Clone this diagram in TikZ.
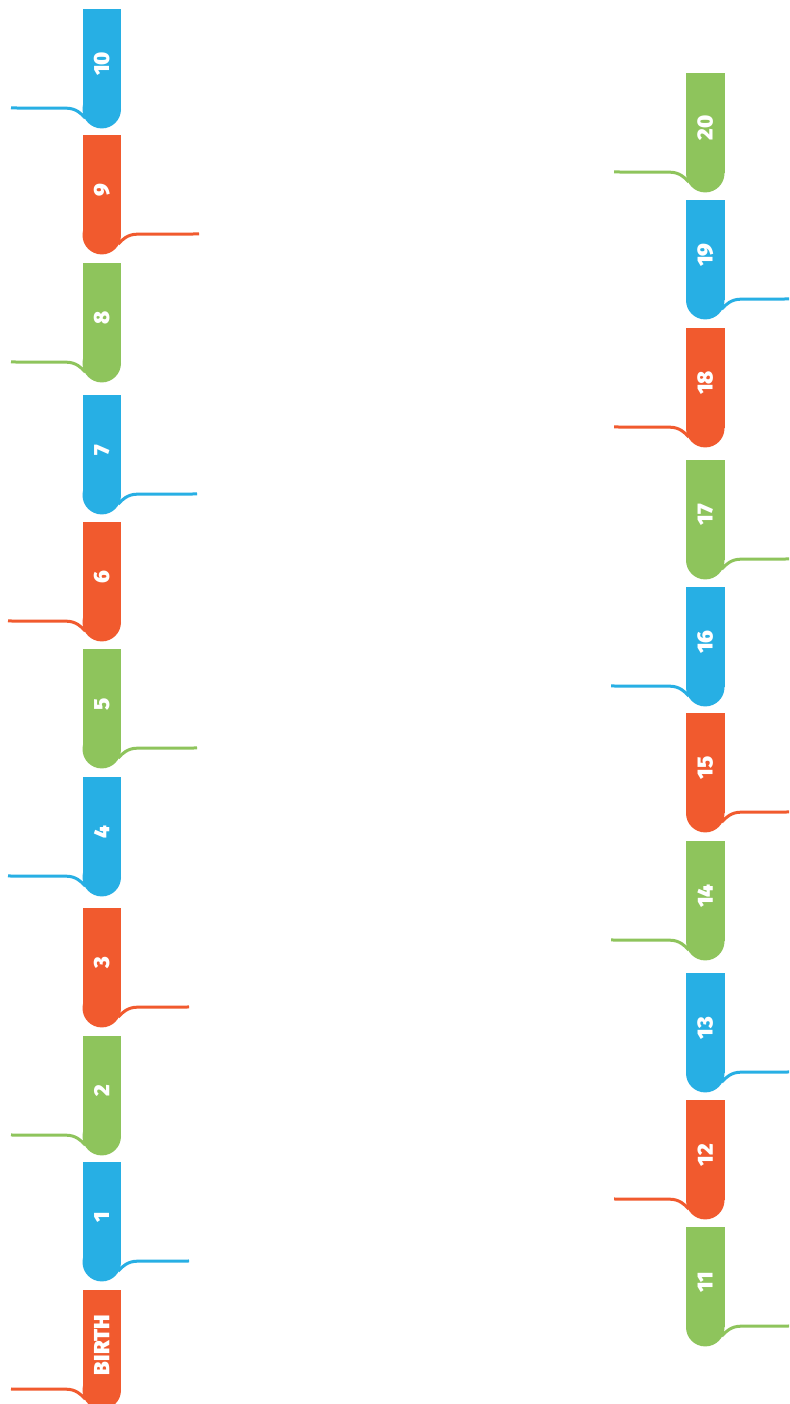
\documentclass[tikz,border=0pt]{standalone}
\usepackage{fontspec}
\newfontfamily\tabfont{Fira Sans Black}
\usetikzlibrary{backgrounds}
\definecolor{tblue}{HTML}{27AFE4}
\definecolor{torange}{HTML}{F15A2E}
\definecolor{tgreen}{HTML}{8EC45C}
\tikzset{
  tabbox/.style={rectangle, inner sep=0pt, minimum width=38.5pt, minimum height=100pt, draw=none},
  tablabel/.style={rotate=90, text=white, font=\tabfont\fontsize{22}{22}\selectfont, inner sep=0pt},
  conn/.style={line width=3pt},
}
% name, x0, top(px from top), colour, label, end x of connector
\newcommand\tabL[6]{%
  \pgfmathsetmacro\cx{#2+19.25}%
  \pgfmathsetmacro\cy{1404-#3-50}%
  \node[tabbox, fill=#4] (t#1) at (\cx,\cy) {};
  \fill[#4] (t#1.south) circle[radius=19.25];
  \node[tablabel] (l#1) at ([yshift=-5pt]t#1.center) {#5};
  \coordinate (e#1) at (#6,\cy-49);
  \begin{scope}[on background layer]
    \draw[conn,#4] (e#1) -- ([xshift=-16pt,yshift=1pt]t#1.south west)
      .. controls +(9,0) and +(-4,5) .. ([xshift=3pt,yshift=-9pt]t#1.south west);
  \end{scope}
}
\newcommand\tabR[6]{%
  \pgfmathsetmacro\cx{#2+19.25}%
  \pgfmathsetmacro\cy{1404-#3-50}%
  \node[tabbox, fill=#4] (t#1) at (\cx,\cy) {};
  \fill[#4] (t#1.south) circle[radius=19.25];
  \node[tablabel] (l#1) at ([yshift=-5pt]t#1.center) {#5};
  \coordinate (e#1) at (#6,\cy-49);
  \begin{scope}[on background layer]
    \draw[conn,#4] (e#1) -- ([xshift=16pt,yshift=1pt]t#1.south east)
      .. controls +(-9,0) and +(4,5) .. ([xshift=-3pt,yshift=-9pt]t#1.south east);
  \end{scope}
}
\begin{document}
\begin{tikzpicture}[x=1pt,y=1pt]
\useasboundingbox (0,0) rectangle (789,1404);
\begin{scope}[on background layer]
  \fill[white] (0,0) rectangle (789,1404);
\end{scope}
% left column
\tabL{10}{82.5}{9}{tblue}{10}{11}
\tabR{9}{82.5}{135}{torange}{9}{199}
\tabL{8}{82.5}{263}{tgreen}{8}{11}
\tabR{7}{82.5}{395}{tblue}{7}{197}
\tabL{6}{82.5}{522}{torange}{6}{8}
\tabR{5}{82.5}{649}{tgreen}{5}{197}
\tabL{4}{82.5}{777}{tblue}{4}{8}
\tabR{3}{82.5}{908}{torange}{3}{189}
\tabL{2}{82.5}{1036}{tgreen}{2}{11}
\tabR{1}{82.5}{1162}{tblue}{1}{189}
\tabL{0}{82.5}{1290}{torange}{BIRTH}{11}
% right column
\tabL{20}{686}{73}{tgreen}{20}{614}
\tabR{19}{686}{200}{tblue}{19}{789}
\tabL{18}{686}{328}{torange}{18}{614}
\tabR{17}{686}{460}{tgreen}{17}{789}
\tabL{16}{686}{587}{tblue}{16}{611}
\tabR{15}{686}{713}{torange}{15}{789}
\tabL{14}{686}{841}{tgreen}{14}{611}
\tabR{13}{686}{973}{tblue}{13}{789}
\tabL{12}{686}{1100}{torange}{12}{614}
\tabR{11}{686}{1227}{tgreen}{11}{789}
\end{tikzpicture}
\end{document}
